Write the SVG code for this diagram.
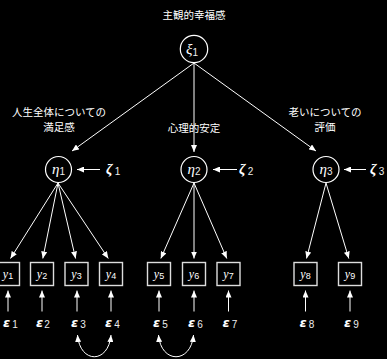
<svg xmlns="http://www.w3.org/2000/svg" width="387" height="359" viewBox="0 0 387 359">
<defs>
<marker id="ah" viewBox="0 0 7 6" refX="7" refY="3" markerWidth="7" markerHeight="6" markerUnits="userSpaceOnUse" orient="auto-start-reverse">
<path d="M0,0 L7,3 L0,6 z" fill="#fff"/>
</marker>
<style>
.ln{stroke:#fff;stroke-width:1;fill:none}
.ar{stroke:#fff;stroke-width:1;fill:none;marker-end:url(#ah)}
.cv{stroke:#fff;stroke-width:1;fill:none;marker-start:url(#ah);marker-end:url(#ah)}
.lat{stroke:#fff;stroke-width:1.2;fill:none}
.obs{stroke:#ddd;stroke-width:1.4;fill:none}
.jp{font-family:"Noto Sans CJK JP","Noto Sans",sans-serif;font-size:10.5px;fill:#fff;text-anchor:middle}
.gk{font-family:"Liberation Serif",serif;font-style:italic;font-size:15px;fill:#fff}
.gb{font-family:"DejaVu Sans",sans-serif;font-style:italic;font-weight:bold;font-size:13px;fill:#fff}
.sb{font-family:"Liberation Sans",sans-serif;font-style:normal;font-weight:normal;font-size:10px;fill:#eee}
.yv{font-family:"Liberation Serif",serif;font-style:italic;font-size:12px;fill:#fff;text-anchor:middle}
.ys{font-size:9px;font-style:normal;font-family:"Liberation Sans",sans-serif}
</style>
</defs>
<rect width="387" height="359" fill="#000"/>
<g id="labels">
<text class="jp" x="194" y="19">主観的幸福感</text>
<text class="jp" x="59" y="115.5">人生全体についての</text>
<text class="jp" x="59" y="130.5">満足感</text>
<text class="jp" x="194" y="132">心理的安定</text>
<text class="jp" x="325" y="115.5">老いについての</text>
<text class="jp" x="325" y="130.5">評価</text>
</g>
<g id="connectors">
<path class="ar" d="M194,63 L72,151"/>
<path class="ar" d="M194,63 L194,152"/>
<path class="ar" d="M194,63 L316,151"/>
<path class="ar" d="M100,169.5 L77,169.5"/>
<path class="ar" d="M237,169.5 L213,169.5"/>
<path class="ar" d="M366,169.5 L344,169.5"/>
<path class="ar" d="M58,183 L10.5,258.5"/>
<path class="ar" d="M58,183 L42.8,258.5"/>
<path class="ar" d="M58,183 L75.6,258.5"/>
<path class="ar" d="M58,183 L108.3,258.5"/>
<path class="ar" d="M194,183 L160.8,258.5"/>
<path class="ar" d="M194,183 L194,258.5"/>
<path class="ar" d="M194,183 L226.8,258.5"/>
<path class="ar" d="M326,183 L306.5,258.5"/>
<path class="ar" d="M326,183 L348.8,258.5"/>
<path class="ar" d="M8,311.5 L8,290.5"/>
<path class="ar" d="M42,311.5 L42,290.5"/>
<path class="ar" d="M77,311.5 L77,290.5"/>
<path class="ar" d="M111,311.5 L111,290.5"/>
<path class="ar" d="M159,311.5 L159,290.5"/>
<path class="ar" d="M194,311.5 L194,290.5"/>
<path class="ar" d="M228.5,311.5 L228.5,290.5"/>
<path class="ar" d="M305.5,311.5 L305.5,290.5"/>
<path class="ar" d="M350,311.5 L350,290.5"/>
<path class="cv" d="M77.5,335 C80,364 108.5,364 111,335"/>
<path class="cv" d="M158.5,335 C161,364 191,364 193.5,335"/>
</g>
<g id="xi1"><circle class="lat" cx="194" cy="49" r="13.7"/><text class="gk" x="186" y="54">ξ<tspan class="sb" dy="2">1</tspan></text></g>
<g id="eta1"><circle class="lat" cx="58.5" cy="169.5" r="13"/><text class="gk" x="52" y="174">η<tspan class="sb" dy="1">1</tspan></text></g>
<g id="eta2"><circle class="lat" cx="194" cy="169.5" r="13"/><text class="gk" x="187.5" y="174">η<tspan class="sb" dy="1">2</tspan></text></g>
<g id="eta3"><circle class="lat" cx="326" cy="169.5" r="13"/><text class="gk" x="319.5" y="174">η<tspan class="sb" dy="1">3</tspan></text></g>
<g id="zeta1"><text class="gk" x="106" y="174" font-weight="bold">ζ<tspan class="sb" dx="2" dy="1">1</tspan></text></g>
<g id="zeta2"><text class="gk" x="239" y="174" font-weight="bold">ζ<tspan class="sb" dx="2" dy="1">2</tspan></text></g>
<g id="zeta3"><text class="gk" x="370" y="174" font-weight="bold">ζ<tspan class="sb" dx="2" dy="1">3</tspan></text></g>
<g id="y1"><rect class="obs" x="-3.5" y="262.5" width="23" height="23"/><text class="yv" x="8" y="278">y<tspan class="ys" dy="1">1</tspan></text></g>
<g id="y2"><rect class="obs" x="30.5" y="262.5" width="23" height="23"/><text class="yv" x="42" y="278">y<tspan class="ys" dy="1">2</tspan></text></g>
<g id="y3"><rect class="obs" x="65" y="262.5" width="23" height="23"/><text class="yv" x="76.5" y="278">y<tspan class="ys" dy="1">3</tspan></text></g>
<g id="y4"><rect class="obs" x="99.5" y="262.5" width="23" height="23"/><text class="yv" x="111" y="278">y<tspan class="ys" dy="1">4</tspan></text></g>
<g id="y5"><rect class="obs" x="147.5" y="262.5" width="23" height="23"/><text class="yv" x="159" y="278">y<tspan class="ys" dy="1">5</tspan></text></g>
<g id="y6"><rect class="obs" x="182.5" y="262.5" width="23" height="23"/><text class="yv" x="194" y="278">y<tspan class="ys" dy="1">6</tspan></text></g>
<g id="y7"><rect class="obs" x="217" y="262.5" width="23" height="23"/><text class="yv" x="228.5" y="278">y<tspan class="ys" dy="1">7</tspan></text></g>
<g id="y8"><rect class="obs" x="294" y="262.5" width="23" height="23"/><text class="yv" x="305.5" y="278">y<tspan class="ys" dy="1">8</tspan></text></g>
<g id="y9"><rect class="obs" x="338.5" y="262.5" width="23" height="23"/><text class="yv" x="350" y="278">y<tspan class="ys" dy="1">9</tspan></text></g>
<g id="e1"><text class="gb" x="3" y="327">ε<tspan class="sb" dx="2" dy="1">1</tspan></text></g>
<g id="e2"><text class="gb" x="36" y="327">ε<tspan class="sb" dx="1" dy="1">2</tspan></text></g>
<g id="e3"><text class="gb" x="71" y="327">ε<tspan class="sb" dx="2" dy="1">3</tspan></text></g>
<g id="e4"><text class="gb" x="105" y="327">ε<tspan class="sb" dx="2" dy="1">4</tspan></text></g>
<g id="e5"><text class="gb" x="153" y="327">ε<tspan class="sb" dx="2" dy="1">5</tspan></text></g>
<g id="e6"><text class="gb" x="188" y="327">ε<tspan class="sb" dx="2" dy="1">6</tspan></text></g>
<g id="e7"><text class="gb" x="222.5" y="327">ε<tspan class="sb" dx="2" dy="1">7</tspan></text></g>
<g id="e8"><text class="gb" x="299.5" y="327">ε<tspan class="sb" dx="2" dy="1">8</tspan></text></g>
<g id="e9"><text class="gb" x="344" y="327">ε<tspan class="sb" dx="2" dy="1">9</tspan></text></g>
</svg>
